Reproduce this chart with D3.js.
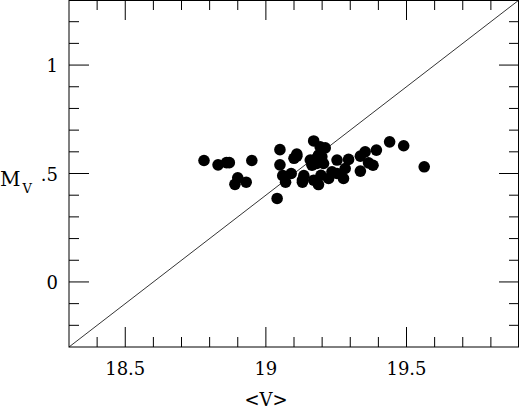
<!DOCTYPE html>
<html><head><meta charset="utf-8">
<script src="https://cdn.jsdelivr.net/npm/d3@7"></script>
<style>body{margin:0;background:#fff}text{font-family:"DejaVu Serif",serif;fill:#000}</style>
</head><body><svg id="c" width="520" height="413"></svg>
<script>
const vMean=[18.78,18.83,18.86,18.87,18.95,18.90,18.89,18.93,19.05,19.05,19.04,19.06,19.07,19.09,19.10,19.11,19.11,19.13,19.135,19.13,19.17,
19.158,19.164,19.176,19.187,19.193,19.211,19.199,19.181,19.170,19.187,19.196,19.205,19.223,19.235,19.253,19.253,19.276,19.282,19.294,19.336,19.353,19.393,19.336,19.365,19.381,19.44,19.49,19.563];
const mV=[0.56,0.54,0.55,0.55,0.56,0.48,0.45,0.46,0.61,0.54,0.385,0.49,0.46,0.50,0.57,0.59,0.58,0.47,0.49,0.46,0.65,
0.562,0.538,0.565,0.585,0.623,0.618,0.577,0.546,0.469,0.449,0.492,0.546,0.477,0.508,0.562,0.50,0.477,0.523,0.565,0.58,0.60,0.608,0.511,0.549,0.538,0.646,0.628,0.531];
const xTicks=[18.5,19,19.5], xLabels=["18.5","19","19.5"];
const yTicks=[0,0.5,1], yLabels=["0",".5","1"];
const svg=d3.select("#c");
const L=69,R=519,T=0,B=347;
const x=d3.scaleLinear().domain([18.3,19.9]).range([L,R]);
const y=d3.scaleLinear().domain([-0.3,1.3]).range([B,T]);
const g=svg.append("g");
g.append("rect").attr("x",L).attr("y",T+0.5).attr("width",R-L-0.5).attr("height",B-T-0.5).attr("fill","none").attr("stroke","#000");
const xm=d3.range(18.4,19.9,0.1).map(v=>+v.toFixed(1));
xm.forEach(v=>{const maj=Math.abs(v*2-Math.round(v*2))<1e-6;const len=maj?20:10;
 g.append("line").attr("x1",x(v)).attr("x2",x(v)).attr("y1",B).attr("y2",B-len).attr("stroke","#000");
 g.append("line").attr("x1",x(v)).attr("x2",x(v)).attr("y1",T).attr("y2",T+len).attr("stroke","#000");});
const ym=d3.range(-0.2,1.3,0.1).map(v=>+v.toFixed(1));
ym.forEach(v=>{const maj=Math.abs(v*2-Math.round(v*2))<1e-6;const len=maj?20:10;
 g.append("line").attr("y1",y(v)).attr("y2",y(v)).attr("x1",L).attr("x2",L+len).attr("stroke","#000");
 g.append("line").attr("y1",y(v)).attr("y2",y(v)).attr("x1",R).attr("x2",R-len).attr("stroke","#000");});
xTicks.forEach((v,i)=>g.append("text").attr("x",x(v)).attr("y",375).attr("text-anchor","middle").attr("font-size",18).text(xLabels[i]));
yTicks.forEach((v,i)=>g.append("text").attr("x",58).attr("y",y(v)+7).attr("text-anchor","end").attr("font-size",18).text(yLabels[i]));
g.append("line").attr("x1",x(18.3)).attr("y1",y(-0.3)).attr("x2",x(19.9)).attr("y2",y(1.3)).attr("stroke","#000").attr("stroke-width",0.8);
g.selectAll("circle").data(vMean).join("circle").attr("cx",d=>x(d)).attr("cy",(d,i)=>y(mV[i])).attr("r",5.8).attr("fill","#000");
g.append("text").attr("x",266).attr("y",406).attr("text-anchor","middle").attr("font-size",18).text("<V>");
const t=g.append("text").attr("x",0).attr("y",186).attr("font-size",20);
t.append("tspan").text("M");t.append("tspan").attr("font-size",13).attr("dy",7).attr("dx",2).text("V");
</script></body></html>
